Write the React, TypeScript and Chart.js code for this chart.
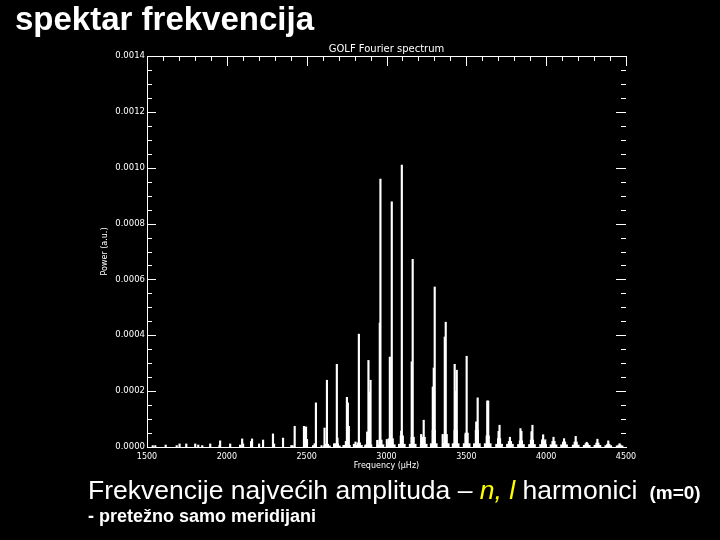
import React, { useEffect, useRef } from "react";
import { Chart, registerables } from "chart.js";

Chart.register(...registerables);

// ---- data (frequency in µHz, power in a.u.) ----
const peakFreq = [
  1536, 1552, 1617, 1686, 1704, 1746, 1802, 1821, 1846, 1896, 1954, 1958, 2021,
  2083, 2096, 2102, 2152, 2158, 2202, 2227, 2289, 2296, 2352, 2404, 2412, 2425,
  2483, 2496, 2502, 2540, 2550, 2558, 2593, 2612, 2627, 2631, 2672, 2689, 2693,
  2730, 2752, 2758, 2764, 2796, 2806, 2827, 2867, 2879, 2887, 2894, 2900, 2942,
  2958, 2962, 2970, 3002, 3014, 3021, 3027, 3033, 3092, 3096, 3158, 3164, 3217,
  3221, 3233, 3290, 3296, 3302, 3352, 3365, 3371, 3427, 3433, 3440, 3496, 3502,
  3562, 3571, 3631, 3637, 3702, 3708, 3773, 3839, 3845, 3908, 3914, 3975, 3981,
  3994, 4046, 4112, 4185, 4254, 4321, 4389, 4460,
];
const peakPower = [
  0.05e-4, 0.05e-4, 0.07e-4, 0.05e-4, 0.11e-4, 0.11e-4, 0.11e-4, 0.07e-4, 0.05e-4, 0.11e-4, 0.06e-4, 0.22e-4, 0.11e-4,
  0.07e-4, 0.29e-4, 0.11e-4, 0.2e-4, 0.29e-4, 0.11e-4, 0.25e-4, 0.47e-4, 0.11e-4, 0.32e-4, 0.05e-4, 0.05e-4, 0.74e-4,
  0.74e-4, 0.72e-4, 0.27e-4, 0.05e-4, 0.12e-4, 1.58e-4, 0.05e-4, 0.68e-4, 2.39e-4, 0.05e-4, 0.12e-4, 2.96e-4, 0.32e-4,
  0.05e-4, 1.78e-4, 1.58e-4, 0.74e-4, 0.1e-4, 0.18e-4, 4.04e-4, 0.05e-4, 0.54e-4, 3.1e-4, 1.97e-4, 2.39e-4, 0.24e-4,
  4.44e-4, 9.59e-4, 0.05e-4, 0.27e-4, 0.14e-4, 3.22e-4, 0.42e-4, 8.78e-4, 0.57e-4, 10.09e-4, 3.05e-4, 6.72e-4, 0.45e-4,
  0.3e-4, 0.96e-4, 2.15e-4, 2.83e-4, 5.73e-4, 0.45e-4, 3.94e-4, 4.47e-4, 2.96e-4, 2.0e-4, 2.75e-4, 0.45e-4, 3.25e-4,
  0.9e-4, 1.76e-4, 1.65e-4, 1.65e-4, 0.56e-4, 0.78e-4, 0.35e-4, 0.66e-4, 0.56e-4, 0.55e-4, 0.78e-4, 0.26e-4, 0.44e-4,
  0.26e-4, 0.35e-4, 0.3e-4, 0.38e-4, 0.17e-4, 0.28e-4, 0.22e-4, 0.12e-4,
];

// broad mode profiles (bases of the peaks)
const modeFreq = [
  2627, 2689, 2752, 2827, 2887, 2962, 3021, 3033, 3096, 3164, 3233, 3296, 3371, 3433,
  3502, 3566, 3634, 3705, 3773, 3842, 3911, 3981, 4046, 4112, 4185, 4254, 4321, 4389, 4460,
];
const modeMidPower = [
  0.1e-4, 0.12e-4, 0.2e-4, 0.15e-4, 0.3e-4, 0.25e-4, 0.3e-4, 0.3e-4, 0.4e-4, 0.35e-4, 0.35e-4, 0.6e-4, 0.45e-4, 0.6e-4,
  0.5e-4, 0.6e-4, 0.4e-4, 0.3e-4, 0.2e-4, 0.22e-4, 0.25e-4, 0.2e-4, 0.2e-4, 0.18e-4, 0.18e-4, 0.12e-4, 0.14e-4, 0.1e-4, 0.07e-4,
];
const modeWidePower = [
  0.04e-4, 0.04e-4, 0.06e-4, 0.06e-4, 0.08e-4, 0.08e-4, 0.08e-4, 0.08e-4, 0.1e-4, 0.1e-4, 0.1e-4, 0.12e-4, 0.12e-4, 0.12e-4,
  0.12e-4, 0.12e-4, 0.12e-4, 0.1e-4, 0.1e-4, 0.09e-4, 0.09e-4, 0.09e-4, 0.08e-4, 0.08e-4, 0.07e-4, 0.06e-4, 0.06e-4, 0.05e-4, 0.04e-4,
];

// ---- axes ----
const xTickValues = [1500, 2000, 2500, 3000, 3500, 4000, 4500];
const yTickValues = [0, 0.0002, 0.0004, 0.0006, 0.0008, 0.001, 0.0012, 0.0014];
const xMinorStep = 100;
const yMinorStep = 0.00005;

const FONT = '"DejaVu Sans", sans-serif';

const inwardTicks = {
  id: "inwardTicks",
  afterDraw(chart: any) {
    const { ctx, chartArea: a, scales } = chart;
    const x = scales.x;
    const y = scales.y;
    ctx.save();
    ctx.strokeStyle = "#ffffff";
    ctx.lineWidth = 1;
    // top axis line
    const topY = Math.round(a.top) + 0.5;
    ctx.beginPath();
    ctx.moveTo(a.left, topY);
    ctx.lineTo(a.right, topY);
    ctx.stroke();
    // top ticks
    const xMin = xTickValues[0];
    const xMax = xTickValues[xTickValues.length - 1];
    const nx = Math.round((xMax - xMin) / xMinorStep);
    for (let i = 0; i <= nx; i++) {
      const v = xMin + i * xMinorStep;
      const px = Math.round(x.getPixelForValue(v)) + 0.5;
      const major = xTickValues.includes(v);
      ctx.beginPath();
      ctx.moveTo(px, a.top);
      ctx.lineTo(px, a.top + (major ? 10 : 5));
      ctx.stroke();
    }
    // left & right ticks
    const yMin = yTickValues[0];
    const yMax = yTickValues[yTickValues.length - 1];
    const ny = Math.round((yMax - yMin) / yMinorStep);
    const perMajor = Math.round((yTickValues[1] - yTickValues[0]) / yMinorStep);
    for (let i = 0; i <= ny; i++) {
      const v = yMin + i * yMinorStep;
      const py = Math.round(y.getPixelForValue(v)) + 0.5;
      const major = i % perMajor === 0;
      ctx.beginPath();
      ctx.moveTo(a.left, py);
      ctx.lineTo(a.left + (major ? 9 : 5), py);
      ctx.moveTo(a.right, py);
      ctx.lineTo(a.right - (major ? 10 : 5), py);
      ctx.stroke();
    }
    ctx.restore();
  },
};

export default function App() {
  const canvasRef = useRef<HTMLCanvasElement | null>(null);

  useEffect(() => {
    const canvas = canvasRef.current;
    if (!canvas) return;
    const toPoints = (fs: number[], ps: number[]) => fs.map((f, i) => ({ x: f, y: ps[i] }));
    const chart = new Chart(canvas, {
      type: "bar",
      data: {
        datasets: [
          {
            label: "wide",
            data: toPoints(modeFreq, modeWidePower),
            backgroundColor: "#ffffff",
            borderWidth: 0,
            barThickness: 7,
            grouped: false,
          } as any,
          {
            label: "mid",
            data: toPoints(modeFreq, modeMidPower),
            backgroundColor: "#ffffff",
            borderWidth: 0,
            barThickness: 3.5,
            grouped: false,
          } as any,
          {
            label: "peaks",
            data: toPoints(peakFreq, peakPower),
            backgroundColor: "#ffffff",
            borderWidth: 0,
            barThickness: 1.5,
            grouped: false,
          } as any,
        ],
      },
      options: {
        responsive: false,
        devicePixelRatio: 1,
        animation: false,
        events: [],
        layout: { padding: { left: 95, right: 94, top: 0, bottom: 68 } },
        plugins: {
          legend: { display: false },
          tooltip: { enabled: false },
          title: {
            display: true,
            text: "GOLF Fourier spectrum",
            color: "#ffffff",
            fullSize: false,
            font: { family: FONT, size: 10, weight: "normal", lineHeight: 1.2 },
            padding: { top: 43, bottom: 1 },
          },
        },
        scales: {
          x: {
            type: "linear",
            min: xTickValues[0],
            max: xTickValues[xTickValues.length - 1],
            offset: false,
            grid: { display: false, drawTicks: false },
            border: { display: true, color: "#ffffff", width: 1 },
            ticks: {
              stepSize: 500,
              autoSkip: false,
              maxRotation: 0,
              color: "#ffffff",
              padding: 5,
              font: { family: FONT, size: 8 },
              callback: (v: any) => String(v),
            },
            title: {
              display: true,
              text: "Frequency (µHz)",
              color: "#ffffff",
              font: { family: FONT, size: 8, lineHeight: 1.2 },
              padding: { top: 0, bottom: 1.2 },
            },
            afterFit: (s: any) => {
              s.height = 25;
            },
          },
          y: {
            type: "linear",
            min: yTickValues[0],
            max: yTickValues[yTickValues.length - 1],
            grid: { display: false, drawTicks: false },
            border: { display: true, color: "#ffffff", width: 1 },
            ticks: {
              stepSize: 0.0002,
              autoSkip: false,
              color: "#ffffff",
              padding: 2,
              font: { family: FONT, size: 8.5 },
              callback: (v: any) => Number(v).toFixed(4),
            },
            title: {
              display: true,
              text: "Power (a.u.)",
              color: "#ffffff",
              font: { family: FONT, size: 8, lineHeight: 1.2 },
              padding: { top: 5, bottom: 0 },
            },
            afterFit: (s: any) => {
              s.width = 52;
            },
          },
        },
      } as any,
      plugins: [inwardTicks],
    });
    return () => chart.destroy();
  }, []);

  return (
    <div
      style={{
        position: "fixed",
        left: 0,
        top: 0,
        width: 720,
        height: 540,
        background: "#000000",
        overflow: "hidden",
        fontFamily: '"Liberation Sans", Arial, sans-serif',
        color: "#ffffff",
      }}
    >
      <canvas
        ref={canvasRef}
        width={720}
        height={540}
        style={{ position: "absolute", left: 0, top: 0, width: 720, height: 540, display: "block" }}
      />
      <div
        style={{
          position: "absolute",
          left: 15,
          top: 2,
          fontSize: 33,
          lineHeight: "33px",
          fontWeight: "bold",
          whiteSpace: "nowrap",
        }}
      >
        spektar frekvencija
      </div>
      <div
        style={{
          position: "absolute",
          left: 88,
          top: 477,
          fontSize: 26.5,
          lineHeight: "26.5px",
          whiteSpace: "nowrap",
        }}
      >
        Frekvencije najvećih amplituda –{" "}
        <span style={{ color: "#ffff00", fontStyle: "italic" }}>n, l</span> harmonici
        <span style={{ fontSize: 19, fontWeight: "bold", marginLeft: 12 }}>(m=0)</span>
      </div>
      <div
        style={{
          position: "absolute",
          left: 88,
          top: 507,
          fontSize: 18,
          lineHeight: "18px",
          fontWeight: "bold",
          whiteSpace: "nowrap",
        }}
      >
        - pretežno samo meridijani
      </div>
    </div>
  );
}
